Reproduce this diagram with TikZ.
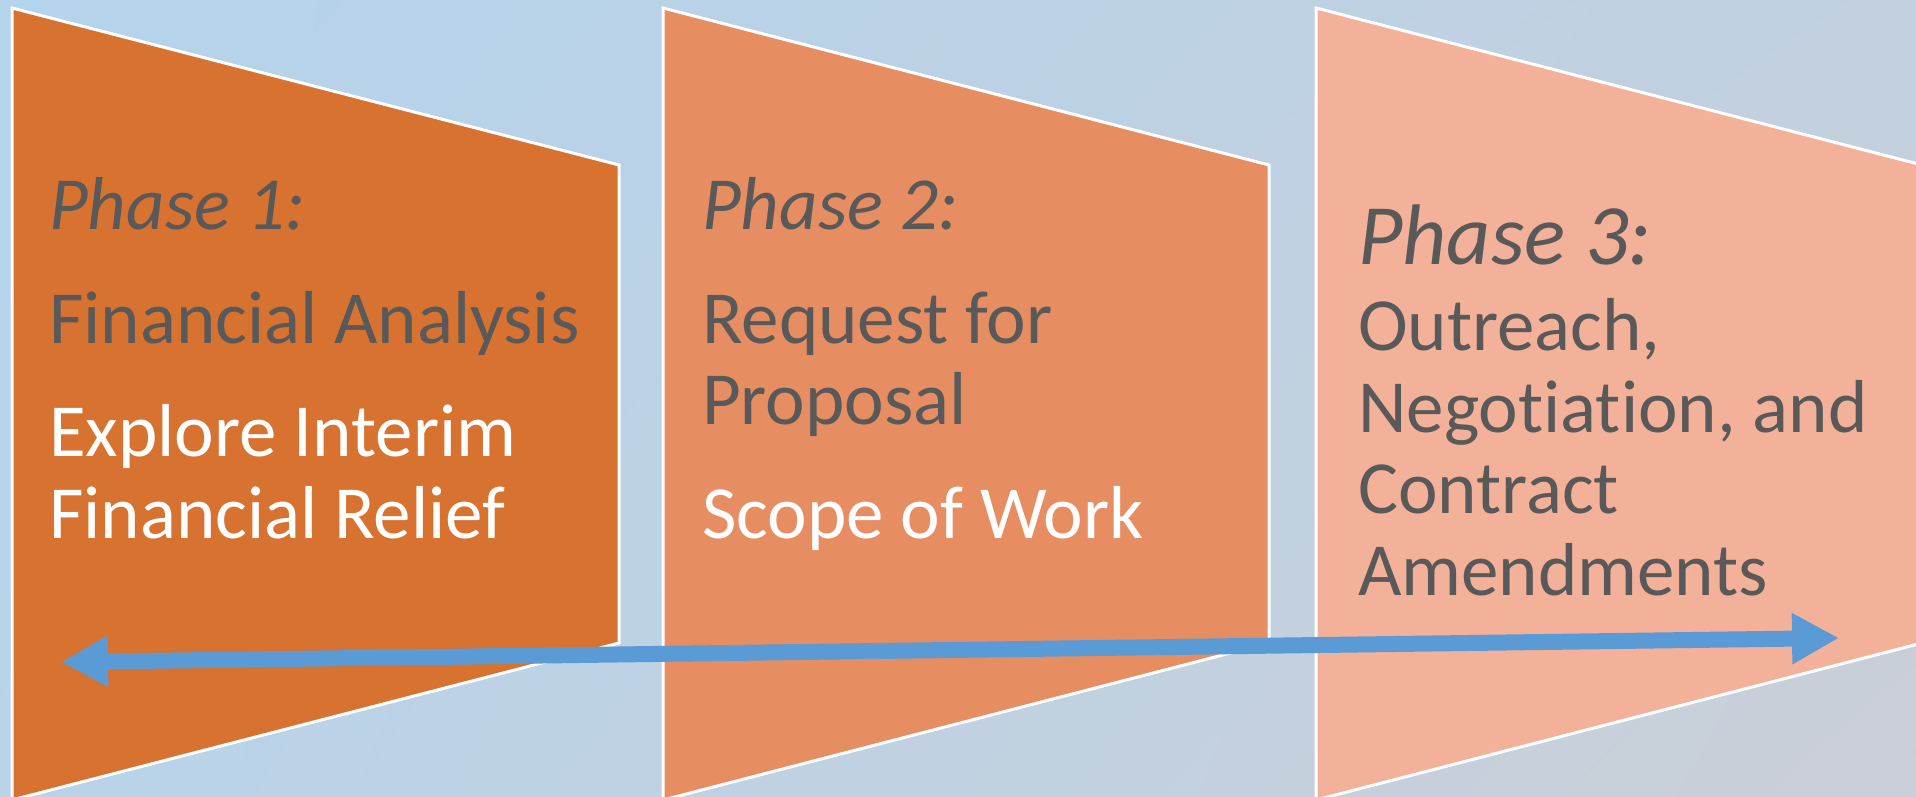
\documentclass[tikz,border=0pt]{standalone}
\usepackage{fontspec}
\setmainfont{Carlito}[Ligatures=NoCommon]
\usetikzlibrary{arrows.meta,shadings}
\definecolor{bgA}{HTML}{B4D3EC}
\definecolor{bgB}{HTML}{C2D0DF}
\definecolor{bgC}{HTML}{B8D3EA}
\definecolor{bgD}{HTML}{CBCFD7}
\definecolor{fillA}{HTML}{D87230}
\definecolor{fillB}{HTML}{E68D62}
\definecolor{fillC}{HTML}{F3B19A}
\definecolor{txtgray}{HTML}{595959}
\definecolor{arrowblue}{HTML}{5B9BD5}
\tikzset{
  panel/.style={draw=white, line width=3pt, line join=miter},
  ttl/.style={anchor=base west, inner sep=0pt, text=txtgray, font=\fontsize{75}{82}\selectfont\itshape},
  ttlbig/.style={anchor=base west, inner sep=0pt, text=txtgray, font=\fontsize{86}{90}\selectfont\itshape},
  dark/.style={anchor=base west, inner sep=0pt, text=txtgray, font=\fontsize{75}{82}\selectfont},
  light/.style={anchor=base west, inner sep=0pt, text=white, font=\fontsize{75}{82}\selectfont},
  arrowline/.style={draw=arrowblue, line width=16pt, {Triangle[length=47pt,width=48pt]}-{Triangle[length=47pt,width=48pt]}}
}
\begin{document}
\begin{tikzpicture}[x=1pt,y=-1pt]
\useasboundingbox (0,0) rectangle (1916,797);
\shade[upper left=bgA, upper right=bgB, lower left=bgC, lower right=bgD] (0,0) rectangle (1916,797);
% panels
\draw[panel, fill=fillA] (12,8) -- (619,165) -- (619,643) -- (12,800) -- cycle;
\draw[panel, fill=fillB] (663,8) -- (1269,165) -- (1269,643) -- (663,800) -- cycle;
\draw[panel, fill=fillC] (1316,8) -- (1922,165) -- (1922,643) -- (1316,800) -- cycle;
% texts panel 1
\node[ttl] (p1t) at (49,229) {Phase 1:};
\node[dark] (p1a) at (49,343) {Financial Analysis};
\node[light] (p1b) at (49,456) {Explore Interim};
\node[light] (p1c) at (49,538) {Financial Relief};
% texts panel 2
\node[ttl] (p2t) at (702,229) {Phase 2:};
\node[dark] (p2a) at (702,343) {Request for};
\node[dark] (p2b) at (702,424) {Proposal};
\node[light] (p2c) at (702,538) {Scope of Work};
% texts panel 3
\node[ttlbig] (p3t) at (1358,264) {Phase 3:};
\node[dark] (p3a) at (1358,350) {Outreach,};
\node[dark] (p3b) at (1358,432) {Negotiation, and};
\node[dark] (p3c) at (1358,513) {Contract};
\node[dark] (p3d) at (1358,595) {Amendments};
% arrow
\coordinate (aL) at (61,662);
\coordinate (aR) at (1839,638);
\draw[arrowline] (aL) -- (aR);
\end{tikzpicture}
\end{document}
